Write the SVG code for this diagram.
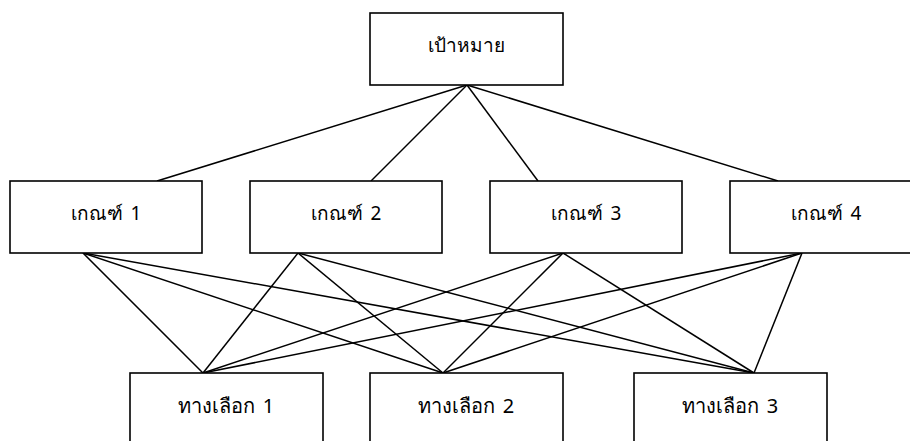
<svg xmlns="http://www.w3.org/2000/svg" width="910" height="441" viewBox="0 0 910 441">
<style>
.box{fill:#fff;stroke:#000;stroke-width:1.6}
.ln{stroke:#000;stroke-width:1.5;fill:none}
.t{font-family:"Noto Sans","DejaVu Sans",sans-serif;font-size:19px;word-spacing:3px;fill:#000;text-anchor:middle}
.b{font-size:20px}
</style>
<rect width="910" height="441" fill="#fff"/>
<g id="connectors">
<line class="ln" x1="467" y1="85" x2="157" y2="181"/>
<line class="ln" x1="467" y1="85" x2="371" y2="181"/>
<line class="ln" x1="467" y1="85" x2="538" y2="181"/>
<line class="ln" x1="467" y1="85" x2="778" y2="181"/>
<line class="ln" x1="83" y1="253" x2="203" y2="373"/>
<line class="ln" x1="83" y1="253" x2="443" y2="373"/>
<line class="ln" x1="83" y1="253" x2="754" y2="373"/>
<line class="ln" x1="298" y1="253" x2="203" y2="373"/>
<line class="ln" x1="298" y1="253" x2="443" y2="373"/>
<line class="ln" x1="298" y1="253" x2="754" y2="373"/>
<line class="ln" x1="563" y1="253" x2="203" y2="373"/>
<line class="ln" x1="563" y1="253" x2="443" y2="373"/>
<line class="ln" x1="563" y1="253" x2="754" y2="373"/>
<line class="ln" x1="802" y1="253" x2="203" y2="373"/>
<line class="ln" x1="802" y1="253" x2="443" y2="373"/>
<line class="ln" x1="802" y1="253" x2="754" y2="373"/>
</g>
<g id="goal"><rect class="box" x="370" y="13" width="193" height="72"/><text class="t" x="466.5" y="52">เป้าหมาย</text></g>
<g id="c1"><rect class="box" x="10" y="181" width="192" height="72"/><text class="t" x="106" y="220">เกณฑ์ 1</text></g>
<g id="c2"><rect class="box" x="250" y="181" width="192" height="72"/><text class="t" x="346" y="220">เกณฑ์ 2</text></g>
<g id="c3"><rect class="box" x="490" y="181" width="192" height="72"/><text class="t" x="586" y="220">เกณฑ์ 3</text></g>
<g id="c4"><rect class="box" x="730" y="181" width="192" height="72"/><text class="t" x="826" y="220">เกณฑ์ 4</text></g>
<g id="a1"><rect class="box" x="130" y="373" width="193" height="80"/><text class="t b" x="226" y="413">ทางเลือก 1</text></g>
<g id="a2"><rect class="box" x="370" y="373" width="193" height="80"/><text class="t b" x="466" y="413">ทางเลือก 2</text></g>
<g id="a3"><rect class="box" x="634" y="373" width="193" height="80"/><text class="t b" x="730" y="413">ทางเลือก 3</text></g>
</svg>
